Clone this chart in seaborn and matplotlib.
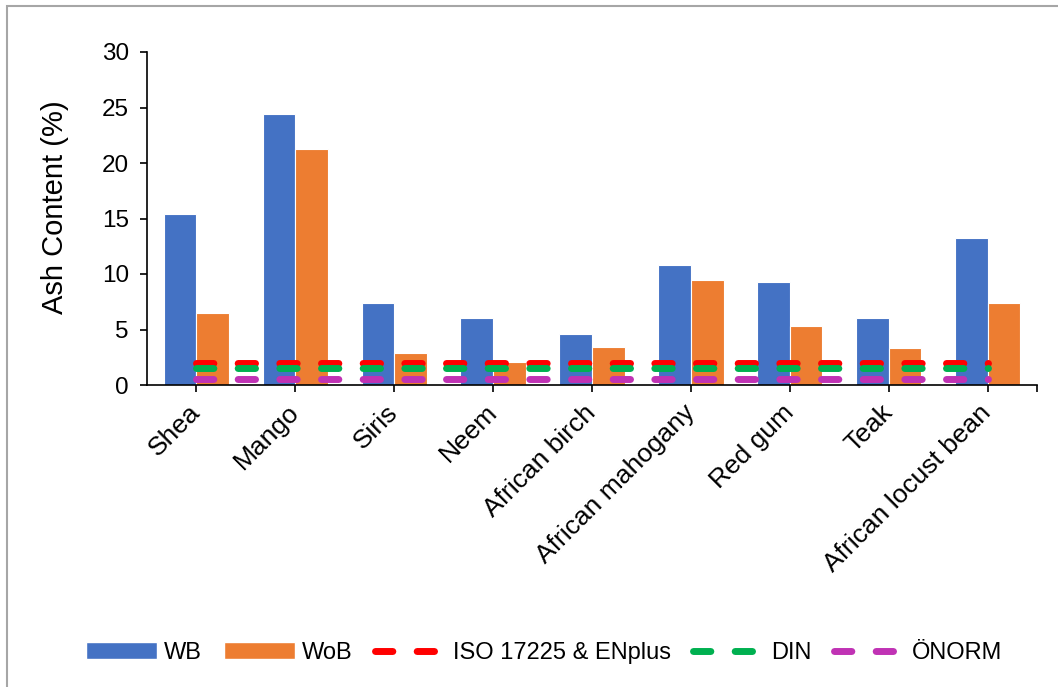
import matplotlib
matplotlib.use("Agg")
import matplotlib.pyplot as plt
from matplotlib.lines import Line2D
from matplotlib.patches import Rectangle
import numpy as np
import pandas as pd
import seaborn as sns

# Data
species = ["Shea", "Mango", "Siris", "Neem", "African birch",
           "African mahogany", "Red gum", "Teak", "African locust bean"]
wb = [15.4, 24.4, 7.4, 6.0, 4.6, 10.8, 9.3, 6.0, 13.2]
wob = [6.5, 21.3, 2.9, 2.1, 3.4, 9.5, 5.3, 3.3, 7.4]
iso_limit = 2.0
din_limit = 1.5
onorm_limit = 0.5

sns.set_theme(style="white")
plt.rcParams["font.family"] = ["Liberation Sans", "DejaVu Sans"]
plt.rcParams["text.color"] = "black"
plt.rcParams["xtick.color"] = "black"
plt.rcParams["ytick.color"] = "black"
plt.rcParams["axes.labelcolor"] = "black"

data = pd.DataFrame({
    "Species": species * 2,
    "Ash": wb + wob,
    "Type": ["WB"] * len(species) + ["WoB"] * len(species),
})

fig = plt.figure(figsize=(10.58, 6.87), dpi=100)
ax = fig.add_axes([147 / 1058, 1 - 385 / 687, 890 / 1058, 333 / 687])

sns.barplot(
    data=data, x="Species", y="Ash", hue="Type",
    palette={"WB": "#4472C4", "WoB": "#ED7D31"},
    width=0.66, saturation=1, edgecolor="white", linewidth=0.8,
    legend=False, ax=ax,
)

# Standard limits as dashed lines across the categories
x = np.arange(len(species))
limits = [
    (iso_limit, "#FF0000", "ISO 17225 & ENplus"),
    (din_limit, "#00B050", "DIN"),
    (onorm_limit, "#C032B4", "ÖNORM"),
]
for value, colour, name in limits:
    ax.plot(x, [value] * len(x), color=colour, lw=5, dashes=(2.5, 3.5),
            dash_capstyle="round", label=name)

# Axis setup
ax.set(xlim=(-0.5, 8.5), ylim=(0, 30), yticks=np.arange(0, 31, 5))
ax.set_xticks(x)
ax.set_xticks([8.5], minor=True)
ax.set_xticklabels(species, rotation=45, ha="right", va="center",
                   rotation_mode="anchor", fontsize=19)
ax.tick_params(axis="y", labelsize=17.5, length=5, width=1.2, pad=8,
               left=True)
ax.tick_params(axis="x", which="both", length=5, width=1.2, bottom=True,
               pad=12)
ax.set_xlabel("")
ax.set_ylabel("Ash Content (%)", fontsize=21, va="center")
ax.yaxis.set_label_coords((55 - 147) / 890, (385 - 207) / 333)
for side in ["top", "right"]:
    ax.spines[side].set_visible(False)
for side in ["left", "bottom"]:
    ax.spines[side].set_color("black")
    ax.spines[side].set_linewidth(1.2)

# Legend along the bottom
handles = [
    Rectangle((0, 0), 1, 1, facecolor="#4472C4"),
    Rectangle((0, 0), 1, 1, facecolor="#ED7D31"),
]
labels = ["WB", "WoB"]
for value, colour, name in limits:
    handles.append(Line2D([], [], color=colour, lw=5, dashes=(2.5, 3.5),
                          dash_capstyle="round"))
    labels.append(name)
fig.legend(handles, labels, loc="center", bbox_to_anchor=(544 / 1058, 1 - 653 / 687),
           ncol=5, frameon=False, fontsize=17, handlelength=3.0,
           handletextpad=0.3, columnspacing=0.95)

# Grey chart frame (only left and top edges are visible in the reference)
fig.add_artist(Rectangle((7 / 1058, -0.1), 1.2, 1.1 - 6 / 687,
                         transform=fig.transFigure, fill=False,
                         edgecolor="#A6A6A6", lw=1.5))

fig.savefig("out.png", dpi=100)
